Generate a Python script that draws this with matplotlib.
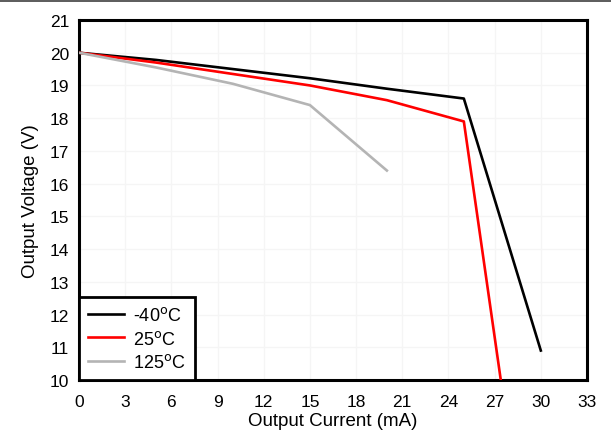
import matplotlib
matplotlib.use("Agg")
import matplotlib.pyplot as plt
from matplotlib.lines import Line2D

plt.rcParams['font.family'] = ['Liberation Sans', 'DejaVu Sans']

# Data
x_m40 = [0, 5, 10, 15, 20, 25, 30]
y_m40 = [20, 19.78, 19.5, 19.22, 18.9, 18.6, 10.9]
x_25 = [0, 5, 10, 15, 20, 25, 27.4]
y_25 = [20, 19.7, 19.35, 19.0, 18.55, 17.9, 10.0]
x_125 = [0, 5, 10, 15, 20]
y_125 = [20, 19.55, 19.05, 18.4, 16.4]
labels = ['-40$^{\\mathrm{o}}$C', '25$^{\\mathrm{o}}$C', '125$^{\\mathrm{o}}$C']
xticks = list(range(0, 34, 3))
yticks = list(range(10, 22))

fig = plt.figure(figsize=(6.11, 4.31), dpi=100)
ax = fig.add_axes([0.1293, 0.116, 0.9607 - 0.1293, 0.9513 - 0.116])

ax.plot(x_m40, y_m40, color='black', lw=1.9, label=labels[0], zorder=3)
ax.plot(x_25, y_25, color='#ff0000', lw=1.9, label=labels[1], zorder=3)
ax.plot(x_125, y_125, color='#b4b4b4', lw=1.9, label=labels[2], zorder=3)

ax.set_xlim(0, 33)
ax.set_ylim(10, 21)
ax.set_xticks(xticks)
ax.set_yticks(yticks)
ax.grid(True, color='#f5f5f5', lw=1.0, zorder=0)
ax.tick_params(axis='x', length=0, labelsize=12.5, pad=10)
ax.tick_params(axis='y', length=0, labelsize=12.5, pad=7)
for s in ax.spines.values():
    s.set_linewidth(2.2)
ax.set_xlabel('Output Current (mA)', fontsize=13.5, labelpad=2)
ax.set_ylabel('Output Voltage (V)', fontsize=13.5, labelpad=8)

leg = ax.legend(loc='lower left', fontsize=13, frameon=True, fancybox=False,
                borderaxespad=0, handlelength=2.0, labelspacing=0.3,
                borderpad=0.5, handletextpad=0.5)
leg.get_frame().set_edgecolor('black')
leg.get_frame().set_linewidth(2.0)
leg.get_frame().set_alpha(1)

fig.add_artist(Line2D([0, 1], [0.996, 0.996], color='#404040', lw=1.2,
                      transform=fig.transFigure))

fig.savefig('out.png', dpi=100)
